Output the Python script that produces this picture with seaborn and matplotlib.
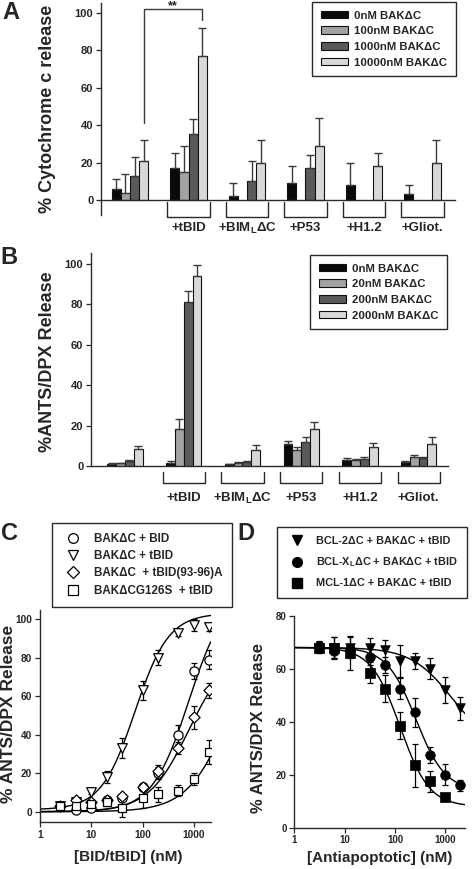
import numpy as np
import pandas as pd
import matplotlib
matplotlib.use('Agg')
import matplotlib.pyplot as plt
import seaborn as sns
from matplotlib.patches import Patch
from matplotlib.lines import Line2D

# ---------------- data ----------------
group_keys = ['none', 'tBID', 'BIM', 'P53', 'H1.2', 'Gliot']
group_labels = ['', '+tBID', r'+BIM$_{\mathbf{L}}$ΔC', '+P53', '+H1.2', '+Gliot.']

concA = ['0nM BAKΔC', '100nM BAKΔC', '1000nM BAKΔC', '10000nM BAKΔC']
A_0 = [6, 17, 2, 9, 8, 3]
A_0_err = [5, 8, 7, 9, 12, 5]
A_100 = [4, 15, np.nan, np.nan, np.nan, np.nan]
A_100_err = [10, 14, np.nan, np.nan, np.nan, np.nan]
A_1000 = [13, 35, 10, 17, np.nan, np.nan]
A_1000_err = [10, 8, 11, 7, np.nan, np.nan]
A_10000 = [21, 77, 20, 29, 18, 20]
A_10000_err = [11, 15, 12, 15, 7, 12]

concB = ['0nM BAKΔC', '20nM BAKΔC', '200nM BAKΔC', '2000nM BAKΔC']
B_0 = [1, 1.5, 0.8, 11, 3, 2]
B_0_err = [0.3, 1, 0.3, 1.5, 1, 0.5]
B_20 = [1.3, 18.5, 1.5, 8, 3, 4.5]
B_20_err = [0.3, 5, 0.3, 1.5, 0.5, 1]
B_200 = [2.5, 81, 2, 12, 3.5, 4]
B_200_err = [0.3, 5.5, 0.3, 2.5, 1, 0.5]
B_2000 = [8.5, 94, 8, 18.5, 9.5, 11]
B_2000_err = [1.5, 5.5, 2.5, 3.5, 2, 3.5]

bar_colors = ['#0a0a0a', '#a2a2a2', '#5a5a5a', '#d8d8d8']

C_x = [2.5, 5, 10, 20, 40, 100, 200, 500, 1000, 2000]
C_bid = [3, 1, 2, 6, 7, 13, 20, 40, 73, 79]
C_bid_err = [1, 1, 1, 1, 1, 2, 3, 5, 4, 5]
C_tbid = [3, 5, 10, 18, 33, 63, 80, 93, 97, 96]
C_tbid_err = [1, 1, 1, 3, 5, 5, 4, 2, 3, 2]
C_mut = [3, 6, 5, 6, 8, 13, 21, 33, 49, 63]
C_mut_err = [1, 1, 1, 1, 1, 2, 3, 3, 6, 4]
C_g126 = [3, 3, 4, 5, 2, 7, 9, 11, 17, 31]
C_g126_err = [1, 1, 2, 2, 5, 5, 4, 3, 3, 6]
C_labels = ['BAKΔC + BID', 'BAKΔC + tBID', 'BAKΔC  + tBID(93-96)A', 'BAKΔCG126S  + tBID']
# Hill fit parameters (bottom, top, EC50, n)
C_fits = [(0, 115, 795, 1.21), (1, 103, 71, 1.32), (0, 85, 800, 1.1), (0, 100, 5000, 1.05)]

D_x = [3.125, 6.25, 12.5, 31.25, 62.5, 125, 250, 500, 1000, 2000]
D_bcl2 = [68, 68, 68, 68, 67, 63, 63, 60, 52, 45]
D_bcl2_err = [2, 4, 4, 3.5, 4, 6, 3, 4, 5, 4.5]
D_bclxl = [68.5, 66.5, 67.5, 64.5, 61.5, 52.5, 43.5, 27.5, 20, 16]
D_bclxl_err = [2, 3, 2, 3, 3, 4, 5.5, 3, 4, 2]
D_mcl1 = [68, 68, 66, 58.5, 52.5, 38.5, 23.5, 17.5, 11.5, np.nan]
D_mcl1_err = [2, 4, 6.5, 4, 5, 5, 8, 4, 1, np.nan]
D_labels = ['BCL-2ΔC + BAKΔC + tBID', r'BCL-X$_{\mathbf{L}}$ΔC + BAKΔC + tBID', 'MCL-1ΔC + BAKΔC + tBID']
# inhibition fit parameters (top, bottom, IC50, n)
D_fits = [(68, 30, 1350, 1.07), (68, 14, 260, 1.5), (68, 8, 127, 1.5)]

# ---------------- style ----------------
sns.set_style('ticks')
plt.rcParams['font.family'] = ['Liberation Sans', 'DejaVu Sans']
plt.rcParams['font.weight'] = 'bold'
plt.rcParams['axes.labelweight'] = 'bold'
plt.rcParams['mathtext.fontset'] = 'custom'
plt.rcParams['mathtext.rm'] = 'Liberation Sans:bold'
plt.rcParams['mathtext.bf'] = 'Liberation Sans:bold'
plt.rcParams['mathtext.it'] = 'Liberation Sans:bold'
SP = '#2a2a2a'

W, H = 477, 869
fig = plt.figure(figsize=(W / 100, H / 100), dpi=100)


def fx(px):
    return px / W


def fy(py):
    return 1 - py / H


def style_axes(ax, ls=8):
    for s in ['top', 'right']:
        ax.spines[s].set_visible(False)
    for s in ['left', 'bottom']:
        ax.spines[s].set_color(SP)
        ax.spines[s].set_linewidth(1.0)
    ax.tick_params(direction='out', length=3.5, width=0.9, color=SP, labelsize=ls, pad=2)
    for lab in ax.get_yticklabels() + ax.get_xticklabels():
        lab.set_fontweight('bold')


def bar_panel(ax, vals, errs, concs, ylim, bw_total, brk_top, brk_bot, lab_y, brk_half):
    rows = []
    for gi, g in enumerate(group_keys):
        for ci, c in enumerate(concs):
            v = vals[ci][gi]
            if not np.isnan(v):
                rows.append({'group': g, 'conc': c, 'value': v})
    df = pd.DataFrame(rows)
    sns.barplot(data=df, x='group', y='value', hue='conc', order=group_keys, hue_order=concs,
                palette=bar_colors, width=bw_total, edgecolor='#111111', linewidth=0.8,
                errorbar=None, legend=False, saturation=1, ax=ax)
    w = bw_total / len(concs)
    for ci in range(len(concs)):
        xs = np.arange(len(group_keys)) + (ci - 1.5) * w
        v = np.array(vals[ci], dtype=float)
        e = np.array(errs[ci], dtype=float)
        m = ~np.isnan(v)
        ax.errorbar(xs[m], v[m], yerr=[np.zeros(m.sum()), e[m]], fmt='none', ecolor='#3a3a3a',
                    elinewidth=1.0, capsize=3, capthick=1.0, zorder=1)
    ax.set_ylim(*ylim)
    ax.set_xlabel('')
    ax.set_xticks([])
    for gi in range(1, len(group_keys)):
        xl, xr = gi - brk_half, gi + brk_half
        ax.plot([xl, xl, xr, xr], [brk_top, brk_bot, brk_bot, brk_top], color=SP, lw=1.0,
                clip_on=False)
        ax.text(gi, lab_y, group_labels[gi], ha='center', va='center', fontsize=9.5,
                fontweight='bold')
    style_axes(ax)
    ax.spines['bottom'].set_position(('data', 0))
    ax.tick_params(axis='x', length=0)


def bar_legend(ax, concs, x0, y0):
    leg = ax.legend(handles=[Patch(facecolor=c, edgecolor='#111111', lw=0.8, label=l)
                             for c, l in zip(bar_colors, concs)],
                    loc='upper left', bbox_to_anchor=(fx(x0), fy(y0)), bbox_transform=fig.transFigure,
                    borderaxespad=0, frameon=True, fancybox=False, edgecolor=SP, framealpha=1,
                    handlelength=2.4, handleheight=0.65, handletextpad=0.55, labelspacing=0.5,
                    borderpad=0.75, prop={'size': 8.2, 'weight': 'bold'})
    leg.get_frame().set_linewidth(1.0)
    return leg


# ---------------- Panel A ----------------
axA = fig.add_axes([fx(101), fy(215), fx(354), 211.7 / H])
bar_panel(axA, [A_0, A_100, A_1000, A_10000], [A_0_err, A_100_err, A_1000_err, A_10000_err],
          concA, (-8, 105), 0.62, -0.9, -8.9, -15.1, 0.36)
axA.set_xlim(-0.496, 5.556)
axA.set_yticks([0, 20, 40, 60, 80, 100])
axA.set_ylabel('% Cytochrome c release', fontsize=13, fontweight='bold')
axA.yaxis.set_label_coords((48 - 101) / 354, 0.5)
axA.yaxis.label.set_va('center')
w = 0.62 / 4
x1 = 0 + 1.5 * w
x2 = 1 + 1.5 * w
axA.plot([x1, x1, x2, x2], [41, 101.8, 101.8, 96], color='#3a3a3a', lw=1.0, clip_on=False)
axA.text((x1 + x2) / 2, 103.5, '**', ha='center', va='center', fontsize=9, fontweight='bold')
bar_legend(axA, concA, 312, 2)

# ---------------- Panel B ----------------
axB = fig.add_axes([fx(91), fy(466), fx(357), 213 / H])
bar_panel(axB, [B_0, B_20, B_200, B_2000], [B_0_err, B_20_err, B_200_err, B_2000_err],
          concB, (0, 105.5), 0.6, -2.8, -8.6, -16, 0.36)
axB.set_xlim(-0.58, 5.50)
axB.set_yticks([0, 20, 40, 60, 80, 100])
axB.set_ylabel('%ANTS/DPX Release', fontsize=13, fontweight='bold')
axB.yaxis.set_label_coords((48 - 91) / 357, 0.49)
axB.yaxis.label.set_va('center')
bar_legend(axB, concB, 310, 255)

# ---------------- Panel C ----------------
axC = fig.add_axes([fx(40), fy(822.3), fx(170.7), 212.3 / H])
C_xmax = 2125
xc = np.logspace(0, np.log10(C_xmax), 300)
C_series = [(C_bid, C_bid_err, 'o'), (C_tbid, C_tbid_err, 'v'), (C_mut, C_mut_err, 'D'),
            (C_g126, C_g126_err, 's')]
C_sizes = {'o': 44, 'v': 48, 'D': 32, 's': 38}
for (yv, ye, mk), (b, t, ec, n) in zip(C_series, C_fits):
    yc = b + (t - b) / (1 + (ec / xc) ** n)
    sns.lineplot(x=xc, y=yc, color='black', lw=1.0, ax=axC, zorder=2)
    axC.errorbar(C_x, yv, yerr=ye, fmt='none', ecolor='black', elinewidth=0.9, capsize=2.5,
                 capthick=0.9, zorder=3)
    sns.scatterplot(x=C_x, y=yv, marker=mk, s=C_sizes[mk], color='white', edgecolor='black',
                    linewidth=0.9, ax=axC, zorder=4)
axC.set_xscale('log')
axC.set_xlim(1, C_xmax)
axC.set_ylim(-5.5, 104.7)
axC.set_xticks([1, 10, 100, 1000])
axC.set_xticklabels(['1', '10', '100', '1000'])
axC.xaxis.set_minor_locator(matplotlib.ticker.NullLocator())
axC.set_yticks([0, 20, 40, 60, 80, 100])
style_axes(axC, 7.3)
axC.set_xlabel('[BID/tBID] (nM)', fontsize=11, fontweight='bold')
axC.xaxis.set_label_coords(0.515, (822.3 - 857) / 212.3)
axC.xaxis.label.set_va('center')
axC.set_ylabel('% ANTS/DPX Release', fontsize=12.5, fontweight='bold')
axC.yaxis.set_label_coords((9 - 40) / 170.7, 0.51)
axC.yaxis.label.set_va('center')
C_handles = [Line2D([], [], ls='', marker=mk, ms=7 if mk != 'D' else 6, mfc='white',
                    mec='black', mew=0.9, label=l) for (_, _, mk), l in zip(C_series, C_labels)]
legC = axC.legend(handles=C_handles, loc='upper left', bbox_to_anchor=(fx(51.7), fy(523)),
                  bbox_transform=fig.transFigure, borderaxespad=0, frameon=True, fancybox=False,
                  edgecolor=SP, framealpha=1, handlelength=2.0, handletextpad=0.75,
                  labelspacing=0.45, borderpad=0.85, prop={'size': 8.4, 'weight': 'bold'})
legC.get_frame().set_linewidth(1.0)

# ---------------- Panel D ----------------
axD = fig.add_axes([fx(294.3), fy(827.7), fx(171), 212 / H])
D_xmax = 2500
xd = np.logspace(0, np.log10(D_xmax), 300)
D_series = [(D_bcl2, D_bcl2_err, 'v'), (D_bclxl, D_bclxl_err, 'o'), (D_mcl1, D_mcl1_err, 's')]
for (yv, ye, mk), (t, b, ic, n) in zip(D_series, D_fits):
    yc = b + (t - b) / (1 + (xd / ic) ** n)
    sns.lineplot(x=xd, y=yc, color='black', lw=1.0, ax=axD, zorder=2)
    yv = np.array(yv, dtype=float)
    ye = np.array(ye, dtype=float)
    m = ~np.isnan(yv)
    xx = np.array(D_x)[m]
    axD.errorbar(xx, yv[m], yerr=ye[m], fmt='none', ecolor='black', elinewidth=0.9, capsize=2.5,
                 capthick=0.9, zorder=3)
    sns.scatterplot(x=xx, y=yv[m], marker=mk, s=48, color='black', edgecolor='black',
                    linewidth=0.5, ax=axD, zorder=4)
axD.set_xscale('log')
axD.set_xlim(1, D_xmax)
axD.set_ylim(0, 80)
axD.set_xticks([1, 10, 100, 1000])
axD.set_xticklabels(['1', '10', '100', '1000'])
axD.xaxis.set_minor_locator(matplotlib.ticker.NullLocator())
axD.set_yticks([0, 20, 40, 60, 80])
style_axes(axD, 7)
axD.set_xlabel('[Antiapoptotic] (nM)', fontsize=11, fontweight='bold')
axD.xaxis.set_label_coords(0.497, (827.7 - 858) / 212)
axD.xaxis.label.set_va('center')
axD.set_ylabel('% ANTS/DPX Release', fontsize=12, fontweight='bold')
axD.yaxis.set_label_coords((259 - 294.3) / 171, 0.47)
axD.yaxis.label.set_va('center')
D_handles = [Line2D([], [], ls='', marker=mk, ms=7, mfc='black', mec='black', label=l)
             for (_, _, mk), l in zip(D_series, D_labels)]
legD = axD.legend(handles=D_handles, loc='upper left', bbox_to_anchor=(fx(277), fy(527)),
                  bbox_transform=fig.transFigure, borderaxespad=0, frameon=True, fancybox=False,
                  edgecolor=SP, framealpha=1, handlelength=2.0, handletextpad=0.75,
                  labelspacing=0.85, borderpad=0.85, prop={'size': 7.8, 'weight': 'bold'})
legD.get_frame().set_linewidth(1.0)

# panel letters
for letter, px, py in [('A', 11, 12.5), ('B', 9, 258), ('C', 10, 534), ('D', 246, 533)]:
    fig.text(fx(px), fy(py), letter, fontsize=17, fontweight='bold', ha='center', va='center')

fig.savefig('out.png', dpi=100)
